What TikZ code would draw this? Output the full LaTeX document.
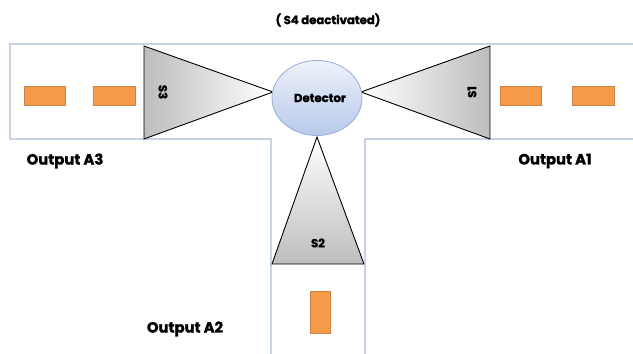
\documentclass[tikz,border=0pt]{standalone}
\usepackage{fontspec}
\setmainfont{Poppins}[BoldFeatures={FakeBold=1.5}]
\usetikzlibrary{shapes.geometric}
\definecolor{chan}{HTML}{C9D3E6}
\definecolor{orng}{HTML}{F59A48}
\definecolor{orngb}{HTML}{C9824A}
\definecolor{detb}{HTML}{9DB1DA}
\definecolor{dettop}{HTML}{EEF2FA}
\definecolor{detbot}{HTML}{B7C9EA}
\definecolor{tri}{HTML}{BDBDBD}
\tikzset{
  chanline/.style={draw=chan, line width=1.2pt},
  item/.style={fill=orng, draw=orngb, line width=0.6pt},
  sensor/.style={draw=black, line width=0.9pt, line join=miter},
  lbl/.style={font=\bfseries\fontsize{14.8}{17}\selectfont, inner sep=0pt},
  small/.style={font=\bfseries\fontsize{11.7}{13}\selectfont, inner sep=0pt},
}
\begin{document}
\begin{tikzpicture}[x=1pt,y=-1pt]
\useasboundingbox (0,0) rectangle (633,354);
% channels
\draw[chanline] (271,354) -- (271,139) -- (10,139) -- (10,44) -- (640,44);
\draw[chanline] (365,354) -- (365,139) -- (640,139);
% items
\draw[item] (24,86) rectangle (65,105);
\draw[item] (93,86) rectangle (135,105);
\draw[item] (500,86) rectangle (541,105);
\draw[item] (572,86) rectangle (614,105);
\draw[item] (310,291) rectangle (330,333);
% sensors
\shade[left color=tri, right color=white] (144,46) -- (273,92) -- (144,139) -- cycle;
\draw[sensor] (144,46) -- (273,92) -- (144,139) -- cycle;
\shade[left color=white, right color=tri] (490,46) -- (361,92) -- (490,139) -- cycle;
\draw[sensor] (490,46) -- (361,92) -- (490,139) -- cycle;
\shade[top color=white, bottom color=tri] (317,137) -- (364,264) -- (272,264) -- cycle;
\draw[sensor] (317,137) -- (364,264) -- (272,264) -- cycle;
% detector
\node[ellipse, minimum width=90pt, minimum height=75pt, draw=detb, line width=0.9pt,
  top color=dettop, bottom color=detbot] (det) at (317,98) {};
\node[small] (dett) at (320,98) {Detector};
% labels
\node[small, rotate=-90] (s3) at (163,92) {S3};
\node[small, rotate=90] (s1) at (472,92) {S1};
\node[small] (s2) at (318,243) {S2};
\node[small] (s4) at (328,20) {( S4 deactivated)};
\node[lbl] (a3) at (65,161) {Output A3};
\node[lbl] (a1) at (555,161) {Output A1};
\node[lbl] (a2) at (185,329) {Output A2};
\end{tikzpicture}
\end{document}
